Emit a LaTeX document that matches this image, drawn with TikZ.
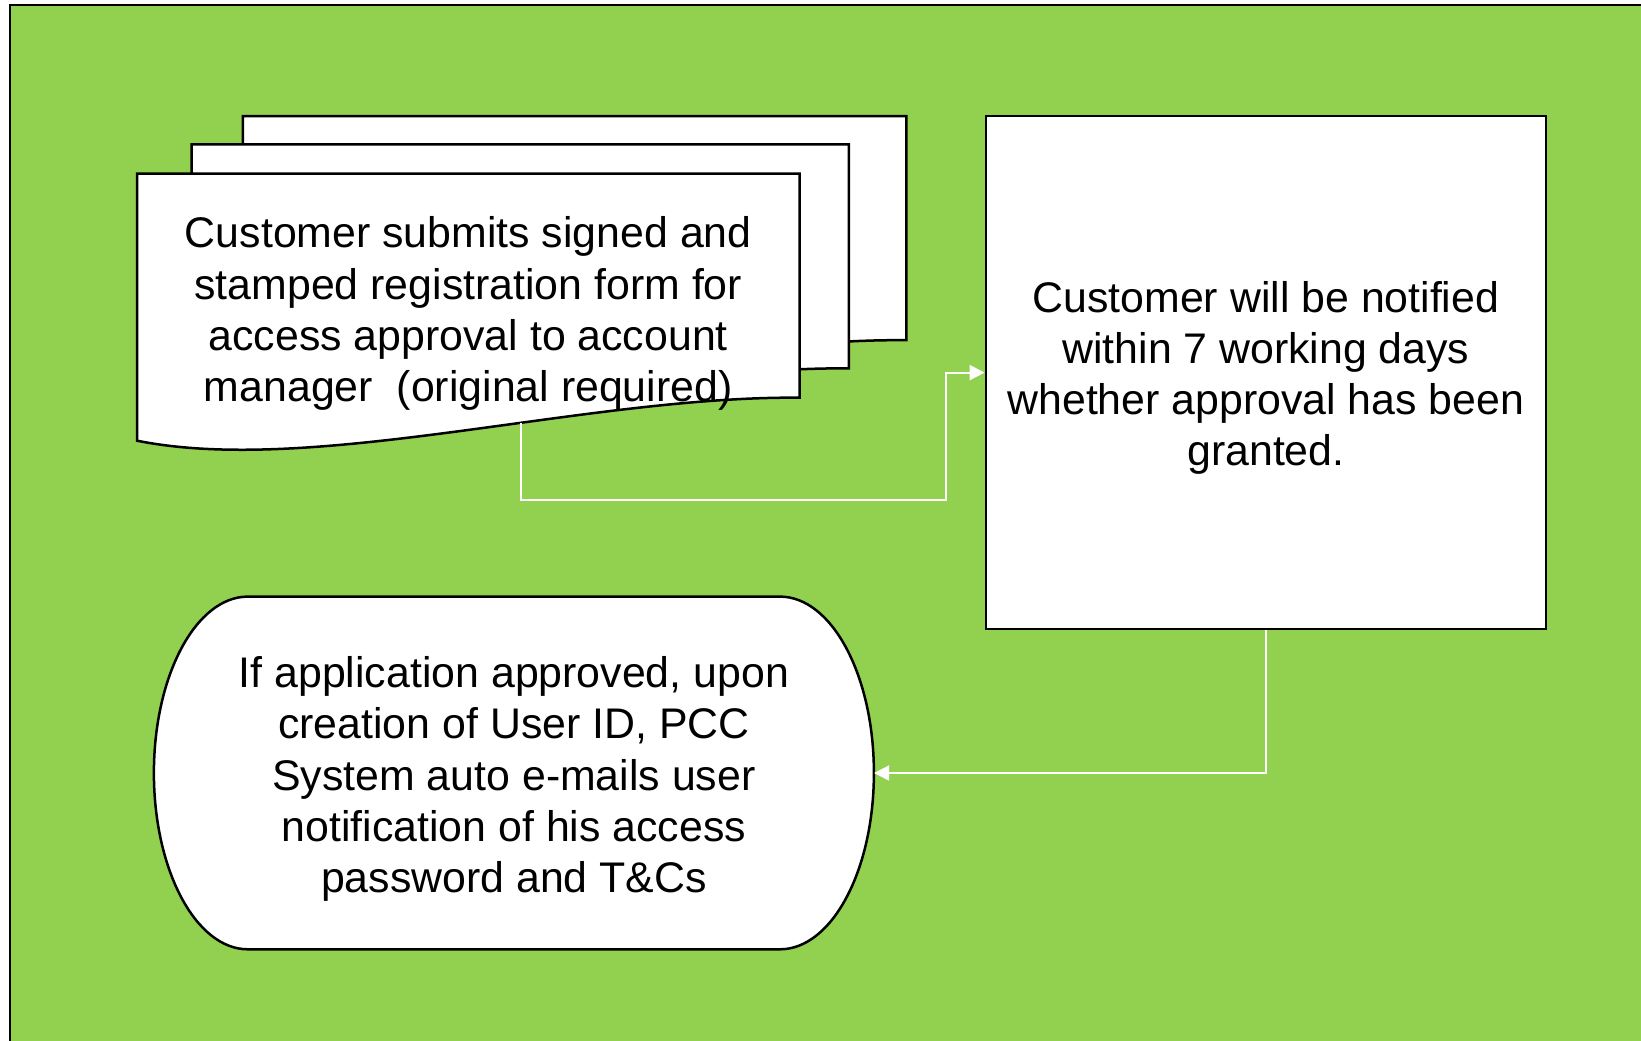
\documentclass[tikz,border=0pt]{standalone}
\usepackage{fontspec}
\setmainfont{Liberation Sans}
\usetikzlibrary{arrows.meta}
\definecolor{leaf}{RGB}{146,208,80}

% one page of the stacked form: #1 = left edge, #2 = top edge, #3 = width
\newcommand\formsheet[3]{%
  \draw[outline] (#1,#2) -- ({#1+#3},#2) -- ({#1+#3},{#2+224})
    .. controls ({#1+0.678*#3},{#2+222}) and ({#1+0.267*#3},{#2+302.5}) .. (#1,{#2+267}) -- cycle;}

\begin{document}
\begin{tikzpicture}[x=1bp,y=-1bp,
  outline/.style={draw=black, line width=2.5bp, fill=white, line join=miter},
  caption/.style={font=\fontsize{43}{51.3}\selectfont, align=center, text=black, inner sep=0pt},
  flow/.style={draw=white, line width=1.8bp, -{Triangle[length=15bp,width=15bp]}}]
\useasboundingbox (0,0) rectangle (1641,1040);
\fill[white] (0,0) rectangle (1641,1040);
\draw[fill=leaf, line width=2.5bp] (10,5) rectangle (1660,1060);

% stacked registration forms
\formsheet{242.8}{116.2}{663.5}
\formsheet{191.5}{144.4}{657.3}
\formsheet{137.1}{173.7}{662.5}
\node[caption] (form) at (468.3,313.5)
  {Customer submits signed and\\stamped registration form for\\access approval to account\\manager\ \ (original required)};
\coordinate (formout) at (521.2,423);

% notification box
\node[outline, minimum width=559.9bp, minimum height=512.8bp] (notice) at (1265.9,372.6) {};
\node[caption] (noticetext) at ([yshift=-5bp]notice.center)
  {Customer will be notified\\within 7 working days\\whether approval has been\\granted.};

% terminator with elliptical ends
\draw[outline] (247.9,596.6) -- (779.9,596.6)
  arc[start angle=-90, end angle=90, x radius=94, y radius=176.35] -- (247.9,949.3)
  arc[start angle=90, end angle=270, x radius=94, y radius=176.35] -- cycle;
\node[minimum width=720bp, minimum height=352.7bp, inner sep=0pt] (release) at (513.9,773) {};
\node[caption] (releasetext) at ([yshift=-6bp]release.center)
  {If application approved, upon\\creation of User ID, PCC\\System auto e-mails user\\notification of his access\\password and T\&Cs};

% connectors
\coordinate (bend) at (946.1,500.3);
\draw[flow] (formout) |- (bend) |- (notice.west);
\draw[flow] (notice.south) |- (release.east);
\end{tikzpicture}
\end{document}
